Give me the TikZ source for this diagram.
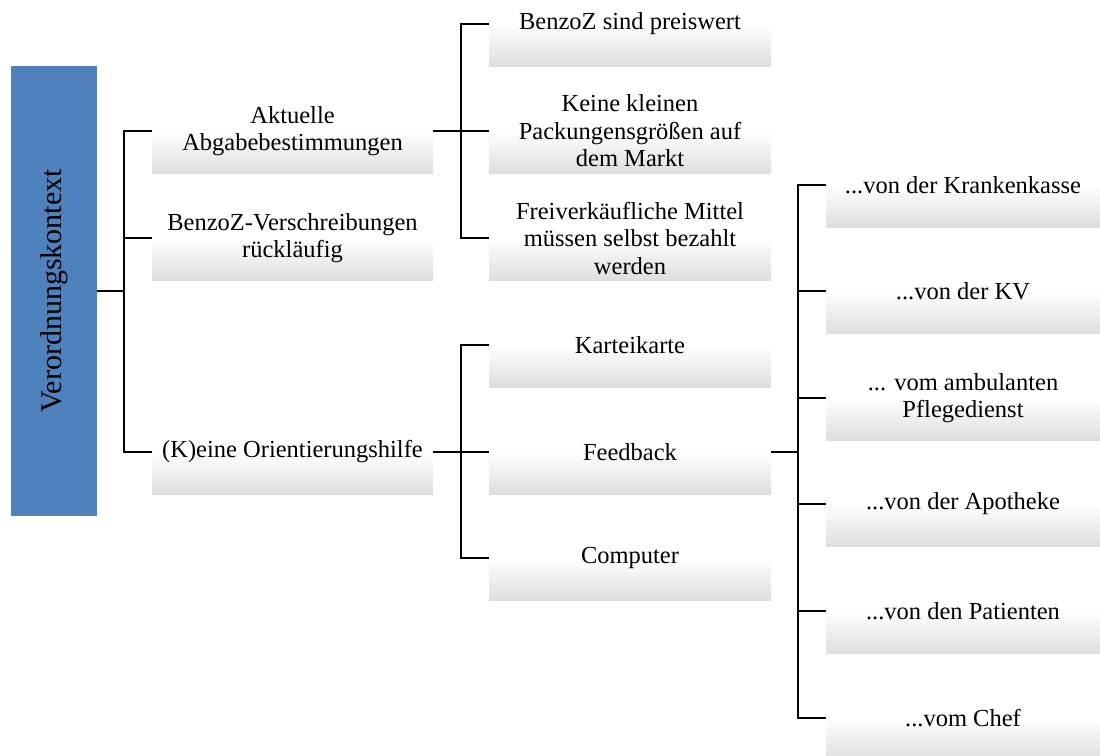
\documentclass[tikz,border=0pt]{standalone}
\usepackage{fontspec}
\setmainfont{Liberation Serif}
\usetikzlibrary{positioning}

\tikzset{
  rootbox/.style={rectangle, fill={rgb,255:red,79;green,129;blue,189}, minimum width=86pt,
    minimum height=450pt, inner sep=0pt, font=\fontsize{30}{34}\selectfont},
  leaf/.style={rectangle, minimum height=84pt, inner sep=0pt, align=center,
    top color=white, bottom color=black!13, middle color=white,
    font=\fontsize{24.5}{27.5}\selectfont},
  lvla/.style={leaf, minimum width=281pt},
  lvlb/.style={leaf, minimum width=282pt},
  lvlc/.style={leaf, minimum width=274pt},
  conn/.style={line width=1.2pt}
}

\begin{document}
\begin{tikzpicture}[x=1pt,y=-1pt]
\useasboundingbox (0,0) rectangle (1100,755);
\clip (0,0) rectangle (1100,755);

\draw (54,291)    node (1) [rootbox] {\rotatebox{90}{Verordnungskontext}};

\draw (292.5,131) node (11) [lvla] {Aktuelle\\Abgabebestimmungen};
\draw (292.5,238) node (12) [lvla] {BenzoZ-Verschreibungen\\rückläufig};
\draw (292.5,452) node (13) [lvla] {(K)eine Orientierungshilfe};

\draw (630,24)    node (111) [lvlb] {BenzoZ sind preiswert};
\draw (630,131)   node (112) [lvlb] {Keine kleinen\\Packungensgrößen auf\\dem Markt};
\draw (630,238)   node (113) [lvlb] {Freiverkäufliche Mittel\\müssen selbst bezahlt\\werden};

\draw (630,345)   node (131) [lvlb] {Karteikarte};
\draw (630,452)   node (132) [lvlb] {Feedback};
\draw (630,558)   node (133) [lvlb] {Computer};

\draw (963,185)   node (1321) [lvlc] {...von der Krankenkasse};
\draw (963,291)   node (1322) [lvlc] {...von der KV};
\draw (963,398)   node (1323) [lvlc] {... vom ambulanten\\Pflegedienst};
\draw (963,504)   node (1324) [lvlc] {...von der Apotheke};
\draw (963,611)   node (1325) [lvlc] {...von den Patienten};
\draw (963,718)   node (1326) [lvlc] {...vom Chef};

% junctions
\coordinate (j1)   at (124,291);
\coordinate (j11)  at (461,131);
\coordinate (j13)  at (461,452);
\coordinate (j132) at (798,452);

\draw[conn] (1.east) -- (j1);
\draw[conn] (j1) |- (11.west);
\draw[conn] (j1) |- (12.west);
\draw[conn] (j1) |- (13.west);

\draw[conn] (11.east) -- (j11);
\draw[conn] (j11) |- (111.west);
\draw[conn] (j11) |- (112.west);
\draw[conn] (j11) |- (113.west);

\draw[conn] (13.east) -- (j13);
\draw[conn] (j13) |- (131.west);
\draw[conn] (j13) |- (132.west);
\draw[conn] (j13) |- (133.west);

\draw[conn] (132.east) -- (j132);
\draw[conn] (j132) |- (1321.west);
\draw[conn] (j132) |- (1322.west);
\draw[conn] (j132) |- (1323.west);
\draw[conn] (j132) |- (1324.west);
\draw[conn] (j132) |- (1325.west);
\draw[conn] (j132) |- (1326.west);

\end{tikzpicture}
\end{document}
